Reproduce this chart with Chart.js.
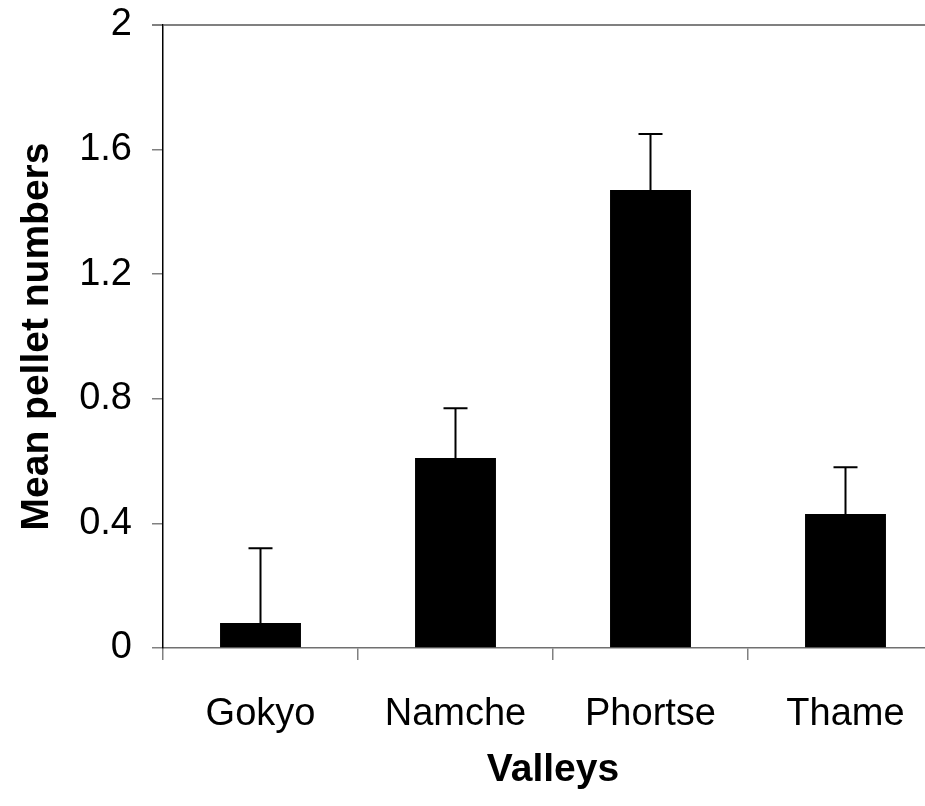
<!DOCTYPE html>
<html>
<head>
<meta charset="utf-8">
<script src="https://cdn.jsdelivr.net/npm/chart.js@4"></script>
<style>
  html, body { margin: 0; padding: 0; background: #fff; overflow: hidden; }
  #wrap { width: 945px; height: 806px; }
</style>
</head>
<body>
<div id="wrap"><canvas id="pelletChart"></canvas></div>
<script>
// Données
const valleys = ['Gokyo', 'Namche', 'Phortse', 'Thame'];
const meanPellets = [0.08, 0.61, 1.47, 0.43];
const errorUp = [0.24, 0.16, 0.18, 0.15];
const yTicks = [0, 0.4, 0.8, 1.2, 1.6, 2];

const FONT = "'Liberation Sans', Arial, sans-serif";

// Barres d'erreur (côté haut seulement)
const errorBars = {
    id: 'errorBars',
    afterDatasetsDraw(chart) {
        const c = chart.ctx;
        const y = chart.scales.y;
        const meta = chart.getDatasetMeta(0);
        c.save();
        c.strokeStyle = '#000';
        c.lineWidth = 2;
        meta.data.forEach((bar, i) => {
            const top = y.getPixelForValue(meanPellets[i] + errorUp[i]);
            c.beginPath();
            c.moveTo(bar.x, bar.y);
            c.lineTo(bar.x, top);
            c.moveTo(bar.x - 12, top);
            c.lineTo(bar.x + 12, top);
            c.stroke();
        });
        c.restore();
    }
};

new Chart(document.getElementById('pelletChart'), {
    type: 'bar',
    data: {
        labels: valleys,
        datasets: [{
            data: meanPellets,
            backgroundColor: '#000',
            borderWidth: 0,
            categoryPercentage: 1,
            barPercentage: 0.415
        }]
    },
    options: {
        responsive: true,
        maintainAspectRatio: false,
        animation: false,
        layout: { padding: { top: 25, right: 2, left: 0, bottom: 0 } },
        plugins: { legend: { display: false }, tooltip: { enabled: false } },
        scales: {
            x: {
                afterFit: s => { s.height = 158; s.paddingLeft = 0; s.paddingRight = 0; },
                grid: { display: true, drawOnChartArea: false, drawTicks: true, tickLength: 12, color: '#808080', lineWidth: 1.5, offset: true },
                border: { color: '#707070', width: 1.5 },
                ticks: { color: '#000', padding: 32, font: { family: FONT, size: 38 } },
                title: { display: true, text: 'Valleys', color: '#000', padding: { top: 0, bottom: 12 }, font: { family: FONT, size: 39, weight: 'bold' } }
            },
            y: {
                min: 0,
                max: 2,
                afterFit: s => { s.width = 163; s.paddingTop = 0; s.paddingBottom = 0; },
                afterBuildTicks: s => { s.ticks = yTicks.map(v => ({ value: v })); },
                grid: {
                    drawOnChartArea: true,
                    drawTicks: true,
                    tickLength: 11,
                    color: ctx => (ctx.tick && ctx.tick.value === 2) ? '#808080' : 'rgba(0,0,0,0)',
                    tickColor: '#808080',
                    lineWidth: ctx => (ctx.tick && ctx.tick.value === 2) ? 2 : 1.5
                },
                border: { color: '#000', width: 1.5 },
                ticks: { color: '#000', padding: 20, font: { family: FONT, size: 38 }, callback: v => String(v) },
                title: { display: true, text: 'Mean pellet numbers', color: '#000', padding: { top: 14, bottom: 0 }, font: { family: FONT, size: 39, weight: 'bold' } }
            }
        }
    },
    plugins: [errorBars]
});
</script>
</body>
</html>
